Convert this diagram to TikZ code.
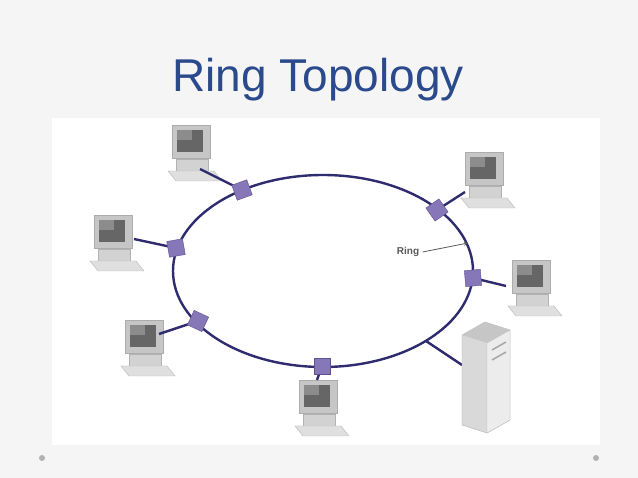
\documentclass[tikz,border=0pt]{standalone}
\usepackage{fontspec}
\setmainfont{Liberation Sans}
\usetikzlibrary{calc}
\begin{document}
\begin{tikzpicture}[x=1pt,y=-1pt,
  ringline/.style={draw=navy,line width=2.4pt},
  hub/.style={draw=hubdark,fill=hubfill,minimum size=16pt,inner sep=0pt,rotate=#1},
  hub/.default=20]
\definecolor{navy}{HTML}{2E2C6E}
\definecolor{hubfill}{HTML}{8677B8}
\definecolor{hubdark}{HTML}{5E5290}
\definecolor{titleblue}{HTML}{2A4A8C}
\newcommand\pcdraw[3]{%
  \coordinate (#1) at (#2,#3);
  \fill[gray!35,draw=gray!60] (#2-14,#3+14) rectangle (#2+18,#3+26);
  \fill[gray!25,draw=gray!55] (#2-22,#3+26) -- (#2+24,#3+26) -- (#2+32,#3+36) -- (#2-14,#3+36) -- cycle;
  \fill[gray!45,draw=gray!65] (#2-18,#3-20) rectangle (#2+20,#3+13);
  \fill[gray!80!black] (#2-13,#3-15) rectangle (#2+13,#3+7);
  \fill[white,opacity=.25] (#2-13,#3-15) rectangle (#2+2,#3-5);
}
\fill[gray!8] (0,0) rectangle (638,478);
\fill[white] (52,118) rectangle (600,445);
\node[text=titleblue,font=\fontsize{46}{50}\selectfont] (title) at (318,80) {Ring Topology};
\draw[ringline] (323,271) ellipse [x radius=150, y radius=96];
% computers
\pcdraw{c1}{190}{145}
\pcdraw{c2}{483}{172}
\pcdraw{c3}{530}{280}
\pcdraw{c4}{317}{400}
\pcdraw{c5}{143}{340}
\pcdraw{c6}{112}{235}
\draw[ringline] (242,190) -- ($(c1)+(10,24)$);
\draw[ringline] (437,210) -- ($(c2)+(-18,20)$);
\draw[ringline] (473,278) -- ($(c3)+(-24,6)$);
\draw[ringline] (322,366) -- ($(c4)+(0,-20)$);
\draw[ringline] (198,321) -- ($(c5)+(16,-6)$);
\draw[ringline] (176,248) -- ($(c6)+(22,4)$);
% hubs on ring
\node[hub=20] (h1) at (242,190) {};
\node[hub=35] (h2) at (437,210) {};
\node[hub=5] (h3) at (473,278) {};
\node[hub=0] (h4) at (322,366) {};
\node[hub=-25] (h5) at (198,321) {};
\node[hub=10] (h6) at (176,248) {};
% server
\draw[ringline] (426,341) -- (462,365);
\fill[gray!30,draw=gray!60] (462,335) -- (485,322) -- (510,330) -- (510,420) -- (487,433) -- (462,425) -- cycle;
\fill[gray!45] (462,335) -- (485,322) -- (510,330) -- (487,343) -- cycle;
\fill[gray!15,draw=gray!50] (487,343) -- (510,330) -- (510,420) -- (487,433) -- cycle;
\draw[gray!70,line width=1.5pt] (492,350) -- (506,342);
\draw[gray!70,line width=1.5pt] (492,360) -- (506,352);
\node[font=\bfseries,text=gray!70!black] (ringlbl) at (408,252) {Ring};
\draw[-stealth,gray!70!black,thick] (ringlbl.east) -- (468,243);
\fill[gray!60] (42,458) circle (3);
\fill[gray!60] (596,458) circle (3);
\end{tikzpicture}
\end{document}
